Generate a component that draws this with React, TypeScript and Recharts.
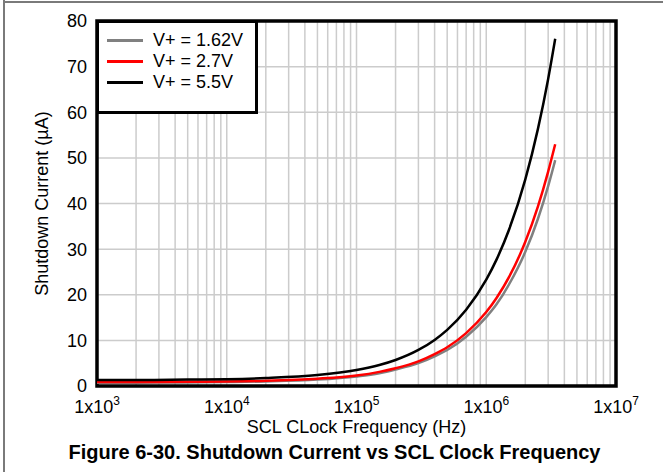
import React from "react";
import {
  LineChart,
  Line,
  XAxis,
  YAxis,
  CartesianGrid,
  ReferenceArea,
} from "recharts";

// SCL clock frequency (Hz)
const freq = [
  1e3, 2e3, 5e3, 1e4, 2e4, 5e4, 1e5, 1.5e5, 2e5, 3e5, 4e5, 5e5, 7e5, 1e6,
  1.2e6, 1.5e6, 2e6, 2.5e6, 3e6, 3.4e6,
];
// shutdown current (uA)
const v162 = [
  0.72, 0.73, 0.78, 0.85, 1.0, 1.4, 2.1, 2.8, 3.6, 5.0, 6.5, 7.9, 10.8, 15.1,
  17.9, 22.3, 29.4, 36.6, 43.8, 49.5,
];
const v27 = [
  0.85, 0.87, 0.93, 1.0, 1.15, 1.6, 2.3, 3.1, 3.9, 5.4, 7.0, 8.5, 11.6, 16.2,
  19.3, 23.9, 31.6, 39.3, 47.0, 53.0,
];
const v55 = [
  1.3, 1.32, 1.4, 1.5, 1.75, 2.4, 3.5, 4.6, 5.7, 7.9, 10.1, 12.3, 16.7, 23.3,
  27.7, 34.3, 45.3, 56.3, 67.3, 76.1,
];

const yTicks = [0, 10, 20, 30, 40, 50, 60, 70, 80];
const decades = [1e3, 1e4, 1e5, 1e6, 1e7];

const series = [
  { key: "v162", name: "V+ = 1.62V", color: "#808080" },
  { key: "v27", name: "V+ = 2.7V", color: "#ff0000" },
  { key: "v55", name: "V+ = 5.5V", color: "#000000" },
];

const data = freq.map((f, i) => ({ f, v162: v162[i], v27: v27[i], v55: v55[i] }));

// log grid: 1..9 in every decade
const xTicks: number[] = [];
decades.slice(0, 4).forEach((d) => {
  for (let m = 1; m < 10; m++) xTicks.push(d * m);
});
xTicks.push(1e7);

const FONT = "'Liberation Sans', Arial, sans-serif";

function XTick(props: any) {
  const { x, y, payload } = props;
  if (!decades.includes(payload.value)) return null;
  const exp = Math.round(Math.log10(payload.value));
  return (
    <text x={x} y={y + 19} textAnchor="middle" fontSize={18} fill="#000" fontFamily={FONT}>
      1x10
      <tspan fontSize={12} dy={-8}>
        {exp}
      </tspan>
    </text>
  );
}

function YLabel(props: any) {
  const { viewBox } = props;
  const cy = viewBox.y + viewBox.height / 2;
  return (
    <text
      x={48}
      y={cy}
      transform={`rotate(-90, 48, ${cy})`}
      textAnchor="middle"
      fontSize={18}
      fill="#000"
      fontFamily={FONT}
    >
      Shutdown Current (µA)
    </text>
  );
}

function XLabel(props: any) {
  const { viewBox } = props;
  const cx = viewBox.x + viewBox.width / 2;
  return (
    <text x={cx} y={433} textAnchor="middle" fontSize={18} fill="#000" fontFamily={FONT}>
      SCL CLock Frequency (Hz)
    </text>
  );
}

export default function App() {
  return (
    <div
      style={{
        position: "absolute",
        left: 0,
        top: 0,
        width: 663,
        height: 472,
        background: "#fff",
        fontFamily: FONT,
      }}
    >
      <div style={{ position: "absolute", left: 3, top: 0, width: 2, height: 472, background: "#7a7a7a" }} />
      <div style={{ position: "absolute", left: 3, top: 1, width: 660, height: 2, background: "#7a7a7a" }} />
      <LineChart
        width={663}
        height={472}
        data={data}
        margin={{ top: 21, right: 47, bottom: 0, left: 0 }}
        style={{ position: "absolute", left: 0, top: 0 }}
      >
        <CartesianGrid stroke="#cccccc" strokeWidth={1.5} verticalValues={xTicks} horizontalValues={yTicks} />
        <XAxis
          dataKey="f"
          type="number"
          scale="log"
          domain={[1e3, 1e7]}
          ticks={xTicks}
          interval={0}
          allowDataOverflow
          axisLine={false}
          tickLine={false}
          tick={<XTick />}
          height={86}
          label={<XLabel />}
        />
        <YAxis
          type="number"
          domain={[0, 80]}
          ticks={yTicks}
          interval={0}
          width={97}
          axisLine={false}
          tickLine={false}
          tickMargin={4}
          tick={{ fontSize: 18, fill: "#000", fontFamily: FONT }}
          label={<YLabel />}
        />
        {series.map((s) => (
          <Line
            key={s.key}
            dataKey={s.key}
            name={s.name}
            type="monotone"
            stroke={s.color}
            strokeWidth={2.5}
            dot={false}
            isAnimationActive={false}
          />
        ))}
        <ReferenceArea
          x1={1e3}
          x2={1e7}
          y1={0}
          y2={80}
          fill="none"
          fillOpacity={0}
          stroke="#000"
          strokeWidth={3.5}
          ifOverflow="visible"
        />
      </LineChart>
      <div
        style={{
          position: "absolute",
          left: 96,
          top: 20,
          width: 156,
          height: 81,
          border: "3px solid #000",
          background: "#fff",
          fontFamily: FONT,
          fontSize: 18,
          paddingTop: 7,
          boxSizing: "content-box",
        }}
      >
        {series.map((s) => (
          <div key={s.key} style={{ display: "flex", alignItems: "center", height: 21 }}>
            <div style={{ width: 36, height: 3, background: s.color, marginLeft: 8 }} />
            <span style={{ marginLeft: 10, color: "#000" }}>{s.name}</span>
          </div>
        ))}
      </div>
      <div
        style={{
          position: "absolute",
          left: 0,
          width: 663,
          top: 441,
          textAlign: "center",
          fontSize: 20,
          fontWeight: "bold",
          color: "#000",
          fontFamily: FONT,
          whiteSpace: "nowrap",
          paddingLeft: 6,
          boxSizing: "border-box",
        }}
      >
        Figure 6-30. Shutdown Current vs SCL Clock Frequency
      </div>
    </div>
  );
}
